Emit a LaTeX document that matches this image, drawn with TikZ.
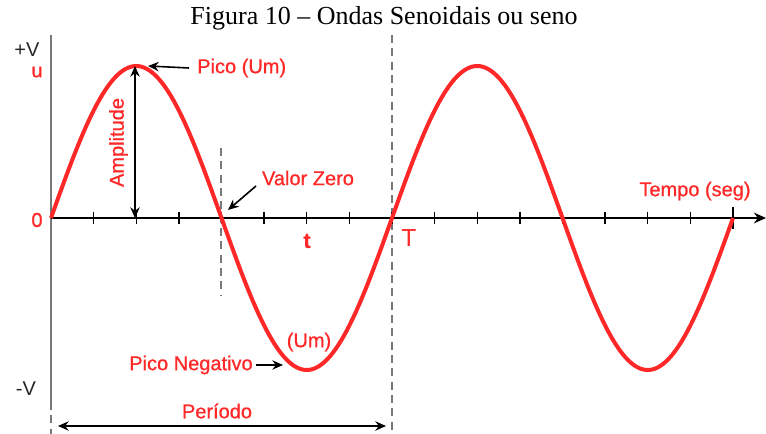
\documentclass[tikz,border=0pt]{standalone}
\usepackage{fontspec}
\setmainfont{Liberation Serif}
\newfontfamily\lblfont[FakeBold=0.8]{Liberation Sans}
\newfontfamily\axfont{Liberation Sans}
\usetikzlibrary{arrows.meta}
\definecolor{wred}{RGB}{255,40,40}
\definecolor{axgray}{RGB}{120,120,120}
\tikzset{
  lbl/.style={text=wred, font=\lblfont\fontsize{15}{17}\selectfont, inner sep=0pt},
  blk/.style={text=black!85, font=\axfont\fontsize{15}{17}\selectfont, inner sep=0pt},
  arr/.style={black, line width=1.2pt, -{Stealth[length=8pt,width=7pt]}},
  darr/.style={black, line width=1.2pt, {Stealth[length=8pt,width=7pt]}-{Stealth[length=8pt,width=7pt]}},
  guide/.style={axgray, line width=0.8pt, dash pattern=on 6pt off 4pt},
  tickline/.style={black, line width=1pt}
}
\begin{document}
\begin{tikzpicture}[x=0.75pt, y=-0.75pt]
\useasboundingbox (0,0) rectangle (766,434);
% title
\node[font=\fontsize{19.5}{22}\selectfont, inner sep=0pt] (title) at (384,18) {Figura 10 -- Ondas Senoidais ou seno};
% dashed guide lines
\coordinate (d1a) at (221,148); \coordinate (d1b) at (221,296);
\draw[guide] (d1a) -- (d1b);
\coordinate (d2a) at (392,35); \coordinate (d2b) at (392,434);
\draw[guide] (d2a) -- (d2b);
\coordinate (d0a) at (51,402); \coordinate (d0b) at (51,434);
\draw[guide] (d0a) -- (d0b);
% y axis
\coordinate (ytop) at (51,35); \coordinate (ybot) at (51,402);
\draw[axgray, line width=2.2pt] (ytop) -- (ybot);
% x axis
\coordinate (o) at (51,218); \coordinate (xend) at (766,218);
\draw[black, line width=1.5pt, -{Stealth[length=9pt,width=8pt]}] (o) -- (xend);
% ticks
\foreach \k in {1,...,15}{
  \draw[tickline] ({51+\k*42.625},212) -- ({51+\k*42.625},224);
}
\draw[tickline] (733,207) -- (733,229);
% sine wave
\draw[wred, line width=3pt, line join=round] plot[domain=51:733, samples=241, smooth] (\x, {218-152*sin(1.055718*(\x-51))});
% axis labels
\node[blk] (pv) at (27,50) {+V};
\node[lbl] (u) at (37,72) {u};
\node[lbl] (zero) at (37,220) {0};
\node[blk] (mv) at (26,389) {-V};
% peak
\coordinate (peak) at (135,66);
\coordinate (base) at (135,218);
\node[lbl, anchor=west] (pico) at (197,68) {Pico (Um)};
\draw[arr] ([xshift=-6pt]pico.west) -- (148,66);
\draw[darr] (peak) -- (base);
\node[lbl, rotate=90] (ampl) at (118.5,142.5) {Amplitude};
% zero value
\node[lbl] (vz) at (308,178) {Valor Zero};
\coordinate (vzt) at (228,210);
\draw[arr] (256,186) -- (vzt);
% t and T
\node[lbl, font=\lblfont\bfseries\fontsize{16}{18}\selectfont] (t) at (307,241) {t};
\node[lbl, font=\axfont\fontsize{18.5}{20}\selectfont] (T) at (409,238) {T};
\node[lbl] (tempo) at (695,191) {Tempo (seg)};
% negative peak
\node[lbl] (um2) at (309,342) {(Um)};
\node[lbl] (pneg) at (191,365) {Pico Negativo};
\coordinate (pnegt) at (283,365);
\draw[arr, line width=1pt] ([xshift=2pt]pneg.east) -- (pnegt);
% period
\node[lbl] (per) at (217,411) {Período};
\coordinate (pa) at (58,426); \coordinate (pb) at (386,426);
\draw[darr] (pa) -- (pb);
\end{tikzpicture}
\end{document}
